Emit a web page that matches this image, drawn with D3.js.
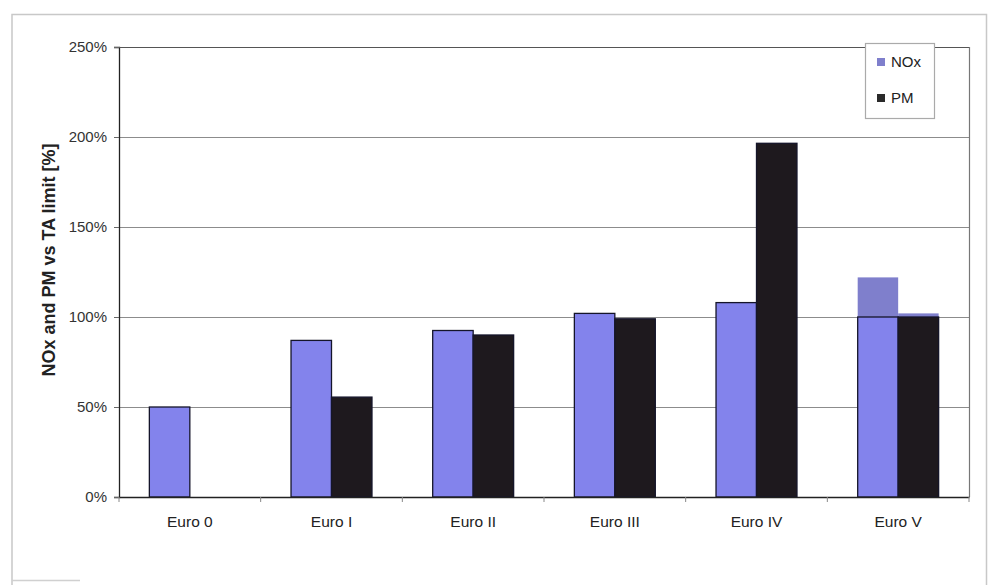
<!DOCTYPE html>
<html>
<head>
<meta charset="utf-8">
<script src="https://cdn.jsdelivr.net/npm/d3@7"></script>
<style>
  html, body { margin: 0; padding: 0; background: #fff; }
  svg { display: block; font-family: "Liberation Sans", Arial, sans-serif; }
</style>
</head>
<body>
<svg id="chart" width="989" height="585"></svg>
<script>
// Emission levels relative to type-approval limit, per Euro stage
const categories = ["Euro 0", "Euro I", "Euro II", "Euro III", "Euro IV", "Euro V"];
const noxValues = [50, 87, 92.5, 102, 108, 100];
const pmValues = [null, 55.5, 90, 99, 196.5, 100];
// Upper range shown behind the Euro V bars
const noxUpper = [null, null, null, null, null, 122];
const pmUpper = [null, null, null, null, null, 102];
const yTicks = [0, 50, 100, 150, 200, 250];
const seriesNames = ["NOx", "PM"];

const colors = { NOx: "#8383ec", PM: "#1e191e", upper: "#7f7fcc" };

const svg = d3.select("#chart");
const margin = { left: 119, right: 20, top: 47, bottom: 88 };
const W = 989, H = 585;
const plotW = W - margin.left - margin.right;
const plotH = H - margin.top - margin.bottom;

// Outer frame
svg.append("path")
  .attr("d", `M12,${H} V14.5 H986.5 V${H}`)
  .attr("fill", "none").attr("stroke", "#c8c8c8").attr("stroke-width", 1.5);
svg.append("line")
  .attr("x1", 12).attr("x2", 80).attr("y1", 580.5).attr("y2", 580.5)
  .attr("stroke", "#d0d0d0").attr("stroke-width", 1.5);

const g = svg.append("g").attr("transform", `translate(${margin.left},${margin.top})`);

const x0 = d3.scaleBand().domain(categories).range([0, plotW]).paddingInner(0).paddingOuter(0);
const bandW = x0.bandwidth();
const barW = bandW / 3.5; // gap width 150%
const x1 = d3.scaleBand().domain(seriesNames).range([bandW / 2 - barW, bandW / 2 + barW]).padding(0);
const y = d3.scaleLinear().domain([0, 250]).range([plotH, 0]);

// Gridlines
g.append("g").selectAll("line")
  .data(yTicks.filter(d => d > 0))
  .join("line")
  .attr("x1", 0).attr("x2", plotW)
  .attr("y1", d => Math.round(y(d)) + 0.5).attr("y2", d => Math.round(y(d)) + 0.5)
  .attr("stroke", "#8c8c8c").attr("stroke-width", 1);

// Right plot border
g.append("line")
  .attr("x1", plotW + 0.5).attr("x2", plotW + 0.5).attr("y1", 0).attr("y2", plotH)
  .attr("stroke", "#777").attr("stroke-width", 1.2);

// Upper ranges (behind the main bars)
const upperG = g.append("g");
categories.forEach((c, i) => {
  if (noxUpper[i] != null) {
    upperG.append("rect")
      .attr("x", x0(c) + x1("NOx")).attr("width", x1.bandwidth())
      .attr("y", y(noxUpper[i])).attr("height", y(noxValues[i]) - y(noxUpper[i]))
      .attr("fill", colors.upper);
  }
  if (pmUpper[i] != null) {
    upperG.append("rect")
      .attr("x", x0(c) + x1("PM")).attr("width", x1.bandwidth())
      .attr("y", y(pmUpper[i])).attr("height", y(pmValues[i]) - y(pmUpper[i]))
      .attr("fill", colors.upper);
  }
});

// Bars
const series = [
  { name: "NOx", values: noxValues },
  { name: "PM", values: pmValues }
];
series.forEach(s => {
  g.append("g").selectAll("rect")
    .data(categories.map((c, i) => ({ c, v: s.values[i] })).filter(d => d.v != null))
    .join("rect")
    .attr("x", d => x0(d.c) + x1(s.name))
    .attr("width", x1.bandwidth())
    .attr("y", d => y(d.v))
    .attr("height", d => y(0) - y(d.v))
    .attr("fill", colors[s.name])
    .attr("stroke", "#15152a").attr("stroke-width", 1.3);
});

// Y axis
const yAxis = d3.axisLeft(y).tickValues(yTicks).tickFormat(d => d + "%").tickSize(5).tickPadding(7);
const yg = g.append("g").call(yAxis);
yg.select(".domain").attr("stroke", "#222").attr("stroke-width", 1.3);
yg.selectAll(".tick line").attr("stroke", "#666");
yg.selectAll(".tick text").attr("font-size", 15).attr("fill", "#333");

// Top plot border (drawn above bars)
g.append("line")
  .attr("x1", 0).attr("x2", plotW).attr("y1", 0.5).attr("y2", 0.5)
  .attr("stroke", "#555").attr("stroke-width", 1.2);

// X axis
const xAxis = d3.axisBottom(x0).tickSize(0).tickPadding(19);
const xg = g.append("g").attr("transform", `translate(0,${plotH})`).call(xAxis);
xg.select(".domain").attr("stroke", "#222").attr("stroke-width", 1.3);
xg.selectAll(".tick text").attr("font-size", 15.5).attr("fill", "#222");
// Category separators below the axis
g.append("g").selectAll("line")
  .data(d3.range(categories.length + 1))
  .join("line")
  .attr("x1", i => i * bandW).attr("x2", i => i * bandW)
  .attr("y1", plotH).attr("y2", plotH + 5)
  .attr("stroke", "#888");

// Y axis title
svg.append("text")
  .attr("transform", `translate(55,260) rotate(-90)`)
  .attr("text-anchor", "middle")
  .attr("font-size", 18).attr("font-weight", "bold").attr("fill", "#222")
  .text("NOx and PM vs TA limit [%]");

// Legend
const lg = svg.append("g").attr("transform", "translate(865,43)");
lg.append("rect").attr("x", 0.5).attr("y", 0.5).attr("width", 69).attr("height", 75)
  .attr("fill", "#fff").attr("stroke", "#aaa").attr("stroke-width", 1.2);
const legendItems = [
  { name: "NOx", color: colors.upper, y: 15 },
  { name: "PM", color: "#2a2a2a", y: 51 }
];
legendItems.forEach(it => {
  lg.append("rect").attr("x", 12).attr("y", it.y).attr("width", 8).attr("height", 8).attr("fill", it.color);
  lg.append("text").attr("x", 26).attr("y", it.y + 9)
    .attr("font-size", 15).attr("fill", "#222").text(it.name);
});
</script>
</body>
</html>
